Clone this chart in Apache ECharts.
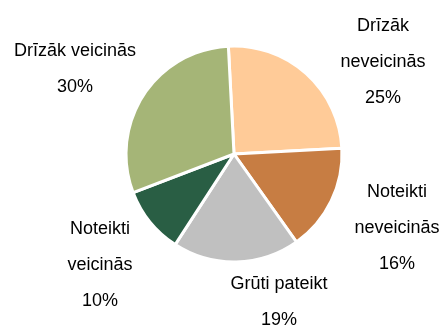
<!DOCTYPE html>
<html>
<head>
<meta charset="utf-8">
<script src="https://cdn.jsdelivr.net/npm/echarts@6/dist/echarts.min.js"></script>
<style>
  html, body { margin: 0; padding: 0; background: #fff; }
  #chart { width: 443px; height: 327px; }
</style>
</head>
<body>
<div id="chart"></div>
<script>
// Survey answers, clockwise from the top
const categories = [
  'Drīzāk\nneveicinās',
  'Noteikti\nneveicinās',
  'Grūti pateikt',
  'Noteikti\nveicinās',
  'Drīzāk veicinās'
];
const shares = [25, 16, 19, 10, 30];
const sliceColors = ['#FFCB98', '#C77D43', '#C0C0C0', '#295E44', '#A5B577'];

// Label anchor points (centre of each text block), in pixels
const labelSpots = [
  [383, 62],
  [397, 228],
  [279, 302],
  [100, 265],
  [75, 69]
];

const chart = echarts.init(document.getElementById('chart'), null, { renderer: 'canvas' });

chart.setOption({
  animation: false,
  backgroundColor: '#ffffff',
  series: [{
    type: 'pie',
    center: [234, 154],
    radius: [0, 108],
    startAngle: 93,
    clockwise: true,
    data: categories.map((name, i) => ({
      name: name,
      value: shares[i],
      itemStyle: { color: sliceColors[i] }
    })),
    itemStyle: { borderColor: '#ffffff', borderWidth: 3 },
    label: {
      show: true,
      position: 'outside',
      alignTo: 'none',
      overflow: 'none',
      formatter: p => p.name + '\n' + p.value + '%',
      fontFamily: '"Liberation Sans Narrow", "Arial Narrow", "Liberation Sans", Arial, sans-serif',
      fontSize: 18,
      lineHeight: 36,
      color: '#000000',
      align: 'center'
    },
    labelLine: { show: false },
    labelLayout: function (params) {
      const s = labelSpots[params.dataIndex];
      return { x: s[0], y: s[1], align: 'center', verticalAlign: 'middle', width: 200 };
    },
    emphasis: { disabled: true }
  }]
});
</script>
</body>
</html>
